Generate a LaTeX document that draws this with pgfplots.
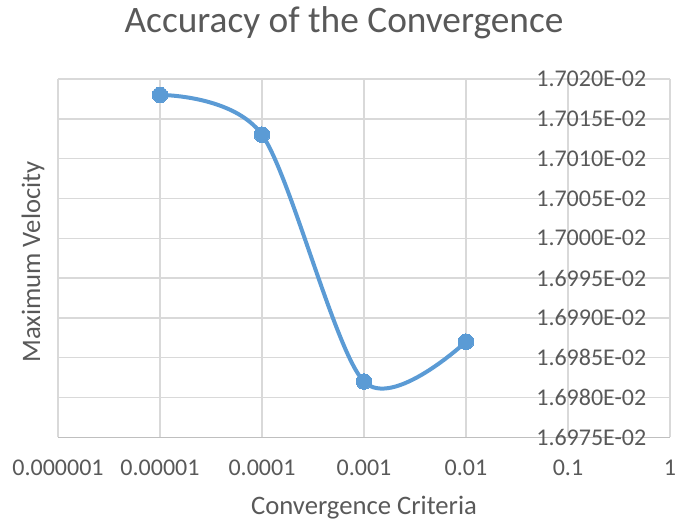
\documentclass[border=0pt]{standalone}
\usepackage{fontspec}
\setmainfont{Carlito}
\usepackage{pgfplots}
\pgfplotsset{compat=1.18}
\definecolor{excelblue}{HTML}{5B9BD5}
\definecolor{txt}{HTML}{595959}
\definecolor{gridc}{HTML}{D9D9D9}
\definecolor{axc}{HTML}{BFBFBF}
\begin{document}
\begin{tikzpicture}
\path[use as bounding box] (0,0) rectangle (341pt,261pt);
\begin{axis}[
  at={(29pt,42.35pt)}, anchor=south west,
  scale only axis, width=306pt, height=179.15pt,
  xmode=log, xmin=1e-6, xmax=1,
  ymin=0.016975, ymax=0.01702,
  scaled y ticks=false,
  xtick={1e-6,1e-5,1e-4,1e-3,1e-2,1e-1,1},
  xticklabels={0.000001,0.00001,0.0001,0.001,0.01,0.1,1},
  ytick={0.016975,0.01698,0.016985,0.01699,0.016995,0.017,0.017005,0.01701,0.017015,0.01702},
  yticklabels={1.6975E-02,1.6980E-02,1.6985E-02,1.6990E-02,1.6995E-02,1.7000E-02,1.7005E-02,1.7010E-02,1.7015E-02,1.7020E-02},
  axis x line*=bottom, axis y line*=right,
  x axis line style={draw=axc, line width=0.7pt, -},
  y axis line style={draw=gridc, line width=0.7pt, -},
  major tick length=0pt, minor tick length=0pt, minor tick num=0,
  grid=major, major grid style={draw=gridc, line width=0.7pt},
  tick label style={font=\fontsize{12}{14}\selectfont, text=txt},
  xticklabel style={anchor=base, yshift=-19.2pt, inner sep=0pt},
  yticklabel style={anchor=east, inner sep=0pt, xshift=-11.65pt},
  clip=false,
]
\addplot[color=excelblue, line width=2pt, smooth, mark=*, mark size=3.9pt,
  mark options={fill=excelblue, draw=excelblue, line width=0pt}]
  coordinates {(1e-5,0.017018) (1e-4,0.017013) (1e-3,0.016982) (1e-2,0.016987)};
\end{axis}
\node[anchor=base, font=\fontsize{18.67}{22}\selectfont, text=txt] at (172pt,244.5pt) {Accuracy of the Convergence};
\node[anchor=base, font=\fontsize{13.33}{16}\selectfont, text=txt] at (182pt,3.5pt) {Convergence Criteria};
\node[anchor=base, rotate=90, font=\fontsize{13.33}{16}\selectfont, text=txt] at (20pt,130pt) {Maximum Velocity};
\end{tikzpicture}
\end{document}
